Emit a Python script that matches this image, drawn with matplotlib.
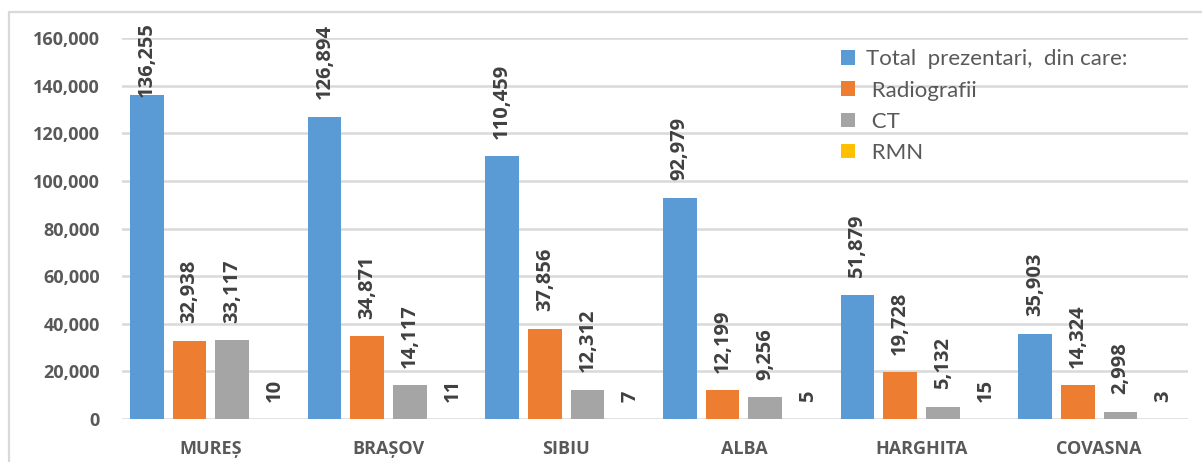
import matplotlib
matplotlib.use("Agg")
import matplotlib.pyplot as plt
from matplotlib.patches import Rectangle
from matplotlib.ticker import FuncFormatter

# Counties and imaging data per county
counties = ["MUREȘ", "BRAȘOV", "SIBIU", "ALBA", "HARGHITA", "COVASNA"]
total_prezentari = [136255, 126894, 110459, 92979, 51879, 35903]
radiografii = [32938, 34871, 37856, 12199, 19728, 14324]
ct = [33117, 14117, 12312, 9256, 5132, 2998]
rmn = [10, 11, 7, 5, 15, 3]

series_names = ["Total  prezentari,  din care:", " Radiografii", " CT", " RMN"]
series_values = [total_prezentari, radiografii, ct, rmn]
colors = ["#5B9BD5", "#ED7D31", "#A5A5A5", "#FFC000"]

plt.rcParams["font.family"] = ["Lato", "DejaVu Sans"]
BOLD_FAMILY = ["Open Sans", "DejaVu Sans"]

DPI = 100
fig = plt.figure(figsize=(12.02, 4.62), dpi=DPI)
ax = fig.add_axes([122 / 1202, 43 / 462, 1066 / 1202, 381 / 462])

# light frame around the chart area
fig.patches.append(Rectangle((9 / 1202, -0.05), 1.2, (462 - 12) / 462 + 0.05,
                             transform=fig.transFigure, fill=False,
                             edgecolor="#D9D9D9", linewidth=1.6, zorder=0))

slot = 0.24
bar_w = 0.19
x = list(range(len(counties)))
labels = []
for k, (name, vals, col) in enumerate(zip(series_names, series_values, colors)):
    off = (k - 1.5) * slot
    xs = [xi + off for xi in x]
    ax.bar(xs, vals, width=bar_w, color=col, label=name, zorder=3)
    for xv, v in zip(xs, vals):
        t = ax.annotate(f"{v:,}", xy=(xv, v), xytext=(0, 12.5),
                        textcoords="offset points", rotation=90,
                        ha="center", va="bottom", fontsize=14.5,
                        fontweight="bold", family=BOLD_FAMILY,
                        color="#404040", zorder=5, annotation_clip=False)
        labels.append(t)

ax.set_xlim(-0.5, len(counties) - 0.5)
ax.set_ylim(0, 160000)
ax.set_yticks(range(0, 160001, 20000))
ax.yaxis.set_major_formatter(FuncFormatter(lambda v, p: f"{int(v):,}"))
ax.set_xticks(x)
ax.set_xticklabels(counties)

ax.grid(axis="y", color="#D9D9D9", linewidth=1.8, zorder=0)
ax.set_axisbelow(True)
for s in ["top", "right", "left", "bottom"]:
    ax.spines[s].set_visible(False)
ax.tick_params(axis="both", length=0)
ax.tick_params(axis="y", pad=16, labelsize=13, labelcolor="#595959")
ax.tick_params(axis="x", pad=15, labelsize=13, labelcolor="#595959")
for lab in ax.get_yticklabels() + ax.get_xticklabels():
    lab.set_fontweight("bold")
    lab.set_family(BOLD_FAMILY)

leg = ax.legend(loc="upper left", bbox_to_anchor=(0.662, 1.005), frameon=False,
                fontsize=16, handlelength=0.63, handleheight=0.63,
                handletextpad=0.5, labelspacing=0.5, borderaxespad=0.2)
for txt in leg.get_texts():
    txt.set_color("#595959")

# keep value labels inside the chart frame
fig.canvas.draw()
limit = fig.bbox.height - 22 * DPI / 100
for t in labels:
    bb = t.get_window_extent()
    if bb.y1 > limit:
        shift_pts = (bb.y1 - limit) * 72 / DPI
        t.xyann = (0, 12.5 - shift_pts)

fig.savefig("out.png", dpi=DPI)
